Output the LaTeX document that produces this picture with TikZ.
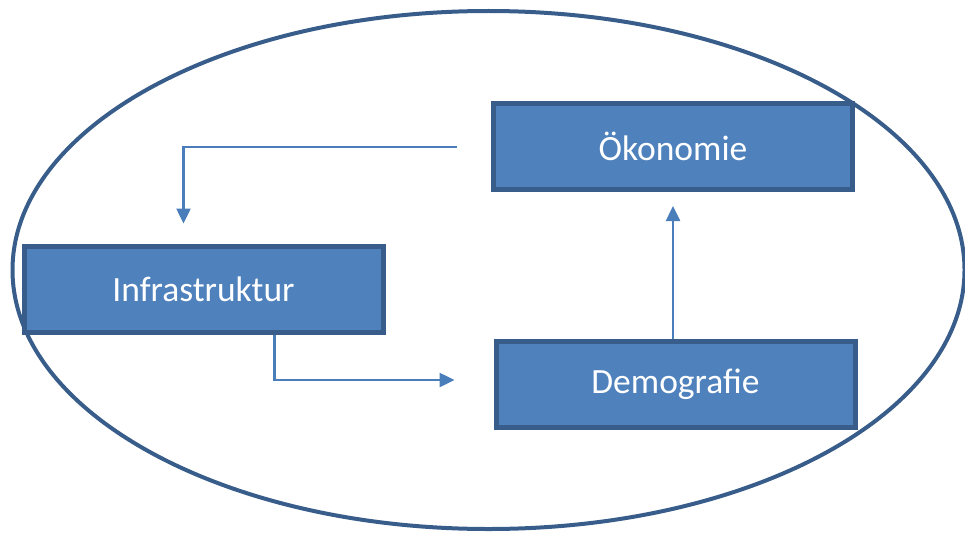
\documentclass[tikz,border=0pt]{standalone}
\usepackage{fontspec}
\setmainfont{Carlito}
\usepackage{tikz}
\usetikzlibrary{arrows.meta,calc,positioning}
\definecolor{kastenblau}{HTML}{4F81BD}
\definecolor{randblau}{HTML}{385D8A}
\definecolor{pfeilblau}{HTML}{4A7EBB}
\tikzset{
  kasten/.style={draw=randblau,line width=5pt,fill=kastenblau,text=white,
    minimum width=359pt,minimum height=86pt,inner sep=0pt,
    font=\fontsize{35.5}{42}\selectfont},
  pfeil/.style={pfeilblau,line width=2.5pt,-{Triangle[width=14pt,length=15pt]}}
}
\begin{document}
\begin{tikzpicture}[x=1pt,y=-1pt]
\useasboundingbox (0,0) rectangle (965,535);
%Rahmen: grosse Ellipse
\draw[randblau,line width=4pt] (488.5,270) ellipse [x radius=476,y radius=259];
%die drei Kaesten
\node[kasten] (oekonomie) at (673,146.5) {Ökonomie};
\node[kasten] (infra) at (203.5,289) {Infrastruktur};
\node[kasten] (demo) at (675.5,384) {Demografie};
\coordinate (start) at (457,147);
%Pfeile
\draw[pfeil,shorten >=20pt] (start) -| ([xshift=162pt]infra.north west);
\draw[pfeil,shorten >=39pt] ([xshift=253pt]infra.south west) |- ([yshift=4pt]demo.west);
\draw[pfeil,shorten >=14pt] ([xshift=-2.5pt]demo.north) -- ([xshift=-2.5pt]demo.north |- oekonomie.south);
\end{tikzpicture}
\end{document}
